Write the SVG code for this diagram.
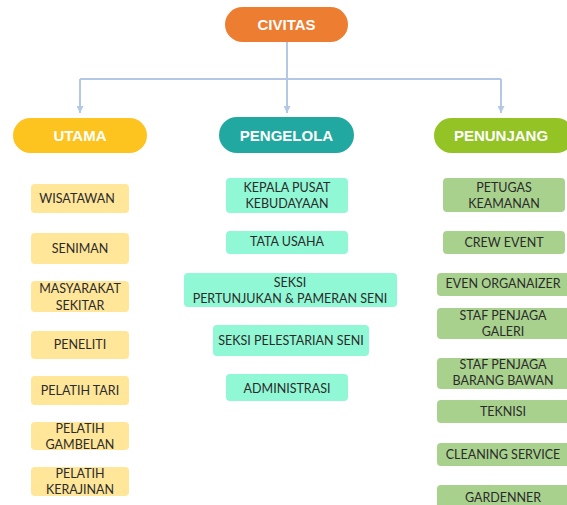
<svg xmlns="http://www.w3.org/2000/svg" width="567" height="505" viewBox="0 0 567 505">
<style>
.pill text{font-family:"Liberation Sans",Arial,sans-serif;font-weight:bold;font-size:15px;fill:#fff;text-anchor:middle}
.box text{font-family:Lato,"Open Sans",sans-serif;font-size:12.5px;fill:#2b2b2b;text-anchor:middle}
.u rect{fill:#FFE699}
.p rect{fill:#91F8D5}
.n rect{fill:#A9D18E}
.conn path{fill:none;stroke:#B4C7E7;stroke-width:2}
</style>
<defs>
<marker id="ah" viewBox="0 0 8 8" refX="8" refY="4" markerWidth="3.5" markerHeight="3.5" markerUnits="strokeWidth" orient="auto">
<path d="M0,0 L8,4 L0,8 Z" fill="#B4C7E7"/>
</marker>
</defs>
<rect width="567" height="505" fill="#fff"/>
<g id="connectors" class="conn">
<path d="M287,42 V79"/>
<path d="M80,79 H501"/>
<path d="M80,79 V113" marker-end="url(#ah)"/>
<path d="M287,79 V113" marker-end="url(#ah)"/>
<path d="M501,79 V113" marker-end="url(#ah)"/>
</g>
<g id="civitas" class="pill"><rect x="225" y="7" width="123" height="35" rx="17.5" fill="#ED7D31"/><text x="286.5" y="30">CIVITAS</text></g>
<g id="utama" class="pill"><rect x="13" y="118" width="134" height="35" rx="17.5" fill="#FDC31F"/><text x="80" y="141">UTAMA</text></g>
<g id="pengelola" class="pill"><rect x="219" y="117" width="135" height="36" rx="18" fill="#21A8A0"/><text x="286.5" y="141">PENGELOLA</text></g>
<g id="penunjang" class="pill"><rect x="434" y="118" width="140" height="35" rx="17.5" fill="#93C325"/><text x="501" y="141">PENUNJANG</text></g>

<g id="u1" class="box u"><rect x="31" y="184" width="98" height="29" rx="4"/><text x="77" y="203">WISATAWAN</text></g>
<g id="u2" class="box u"><rect x="31" y="233" width="98" height="31" rx="4"/><text x="80" y="253">SENIMAN</text></g>
<g id="u3" class="box u"><rect x="31" y="281" width="98" height="31" rx="4"/><text x="80" y="293">MASYARAKAT</text><text x="80" y="309.5">SEKITAR</text></g>
<g id="u4" class="box u"><rect x="31" y="331" width="98" height="28" rx="4"/><text x="80" y="349">PENELITI</text></g>
<g id="u5" class="box u"><rect x="31" y="376" width="98" height="29" rx="4"/><text x="80" y="395">PELATIH TARI</text></g>
<g id="u6" class="box u"><rect x="31" y="422" width="98" height="28" rx="4"/><text x="80" y="433">PELATIH</text><text x="80" y="449">GAMBELAN</text></g>
<g id="u7" class="box u"><rect x="31" y="467" width="98" height="29" rx="4"/><text x="80" y="478">PELATIH</text><text x="80" y="494">KERAJINAN</text></g>

<g id="p1" class="box p"><rect x="226" y="178" width="122" height="35" rx="4"/><text x="287" y="192">KEPALA PUSAT</text><text x="287" y="208">KEBUDAYAAN</text></g>
<g id="p2" class="box p"><rect x="226" y="231" width="122" height="23" rx="4"/><text x="287" y="246">TATA USAHA</text></g>
<g id="p3" class="box p"><rect x="184" y="273" width="213" height="34" rx="4"/><text x="290" y="287">SEKSI</text><text x="290" y="303">PERTUNJUKAN &amp; PAMERAN SENI</text></g>
<g id="p4" class="box p"><rect x="213" y="325" width="156" height="31" rx="4"/><text x="291" y="345">SEKSI PELESTARIAN SENI</text></g>
<g id="p5" class="box p"><rect x="226" y="374" width="122" height="27" rx="4"/><text x="287" y="393">ADMINISTRASI</text></g>

<g id="n1" class="box n"><rect x="443" y="178" width="122" height="34" rx="4"/><text x="504" y="192">PETUGAS</text><text x="504" y="208">KEAMANAN</text></g>
<g id="n2" class="box n"><rect x="443" y="231" width="122" height="23" rx="4"/><text x="504" y="247">CREW EVENT</text></g>
<g id="n3" class="box n"><rect x="437" y="273" width="134" height="23" rx="4"/><text x="503" y="288">EVEN ORGANAIZER</text></g>
<g id="n4" class="box n"><rect x="437" y="308" width="134" height="31" rx="4"/><text x="503" y="320">STAF PENJAGA</text><text x="503" y="336">GALERI</text></g>
<g id="n5" class="box n"><rect x="437" y="358" width="134" height="31" rx="4"/><text x="503" y="369">STAF PENJAGA</text><text x="503" y="385">BARANG BAWAN</text></g>
<g id="n6" class="box n"><rect x="437" y="400" width="134" height="23" rx="4"/><text x="503" y="416">TEKNISI</text></g>
<g id="n7" class="box n"><rect x="437" y="443" width="134" height="23" rx="4"/><text x="503" y="459">CLEANING SERVICE</text></g>
<g id="n8" class="box n"><rect x="437" y="485" width="134" height="30" rx="4"/><text x="503" y="502">GARDENNER</text></g>
</svg>
